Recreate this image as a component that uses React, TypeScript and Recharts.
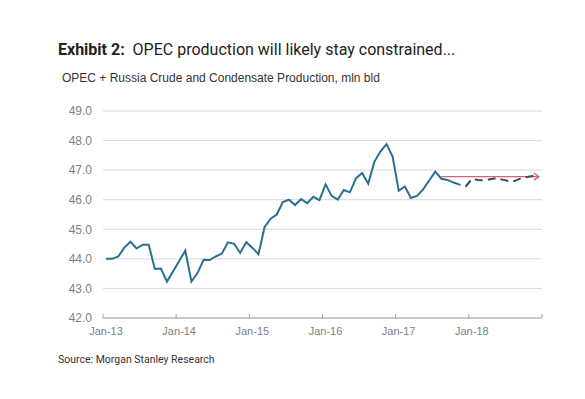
import React from 'react';
import { LineChart, Line, XAxis, YAxis, CartesianGrid } from 'recharts';

// Month index 0 = Jan-13 ... 71 = Dec-18
const yearTicks = [0, 12, 24, 36, 48, 60, 72];
const yearLabels = ['Jan-13', 'Jan-14', 'Jan-15', 'Jan-16', 'Jan-17', 'Jan-18', ''];
const yTicks = [42, 43, 44, 45, 46, 47, 48, 49];

// OPEC + Russia crude & condensate production, mln b/d (Jan-13 .. Nov-17)
const actual = [
  44.0, 44.0, 44.08, 44.38, 44.58, 44.35, 44.48, 44.48, 43.66, 43.67, 43.23, 43.58,
  43.93, 44.28, 43.23, 43.52, 43.97, 43.96, 44.08, 44.18, 44.56, 44.51, 44.2, 44.57,
  44.37, 44.16, 45.08, 45.36, 45.5, 45.92, 46.0, 45.82, 46.02, 45.88, 46.1, 45.99,
  46.52, 46.13, 46.0, 46.33, 46.25, 46.73, 46.9, 46.54, 47.28, 47.63, 47.88, 47.46,
  46.3, 46.45, 46.06, 46.13, 46.35, 46.65, 46.95, 46.71, 46.67, 46.58, 46.51,
];

// Forecast (Nov-17 .. Dec-18)
const forecastStart = 58;
const forecast = [
  46.51, 46.45, 46.7, 46.67, 46.65, 46.69, 46.73, 46.68, 46.63, 46.63, 46.72, 46.77, 46.8, 46.76,
];

// Red reference arrow
const targetStart = 55;
const targetLevel = 46.78;
const totalMonths = 72;

const data = Array.from({ length: totalMonths }, (_, i) => ({
  x: i + 0.5,
  actual: i < actual.length ? actual[i] : null,
  forecast:
    i >= forecastStart && i - forecastStart < forecast.length ? forecast[i - forecastStart] : null,
  target: i >= targetStart ? targetLevel : null,
}));

const XTick = (props: any) => {
  const { x, y, payload } = props;
  const idx = yearTicks.indexOf(payload.value);
  const label = idx >= 0 ? yearLabels[idx] : '';
  return (
    <g>
      <line x1={x} x2={x} y1={y - 4} y2={y} stroke="#a6a6a6" strokeWidth={1} />
      <text
        x={x + 3}
        y={y + 17}
        textAnchor="middle"
        fontSize={11}
        fill="#7f7f7f"
        fontFamily="'Liberation Sans', Arial, sans-serif"
      >
        {label}
      </text>
    </g>
  );
};

const ArrowDot = (props: any) => {
  const { cx, cy, index } = props;
  if (index !== totalMonths - 1 || cx == null || cy == null) return <g key={`d${index}`} />;
  return (
    <path
      key={`d${index}`}
      d={`M${cx - 5},${cy - 3.5} L${cx},${cy} L${cx - 5},${cy + 3.5}`}
      stroke="#e0606a"
      strokeWidth={1.3}
      fill="none"
    />
  );
};

export default function App() {
  return (
    <div
      style={{
        position: 'absolute',
        left: 0,
        top: 0,
        width: 585,
        height: 399,
        background: '#fff',
        overflow: 'hidden',
      }}
    >
      <LineChart
        width={585}
        height={399}
        data={data}
        margin={{ top: 111, right: 43, bottom: 61, left: 63 }}
      >
        <CartesianGrid vertical={false} stroke="#d9d9d9" strokeWidth={1} />
        <XAxis
          dataKey="x"
          type="number"
          domain={[0, totalMonths]}
          ticks={yearTicks}
          interval={0}
          height={20}
          tickSize={0}
          tickMargin={0}
          tickLine={false}
          axisLine={{ stroke: '#a6a6a6', strokeWidth: 1 }}
          tick={<XTick />}
        />
        <YAxis
          type="number"
          domain={[42, 49]}
          ticks={yTicks}
          interval={0}
          width={40}
          axisLine={false}
          tickLine={false}
          tickSize={0}
          tickMargin={11}
          tickFormatter={(v: number) => v.toFixed(1)}
          tick={{ fontSize: 12, fill: '#7f7f7f', fontFamily: "'Liberation Sans', Arial, sans-serif" }}
        />
        <Line
          dataKey="target"
          stroke="#e0606a"
          strokeWidth={1.2}
          dot={ArrowDot}
          activeDot={false}
          isAnimationActive={false}
        />
        <Line
          dataKey="actual"
          stroke="#2a6f8e"
          strokeWidth={2}
          dot={false}
          activeDot={false}
          isAnimationActive={false}
        />
        <Line
          dataKey="forecast"
          stroke="#2e4d6d"
          strokeWidth={2}
          strokeDasharray="8 5"
          strokeDashoffset={7}
          dot={false}
          activeDot={false}
          isAnimationActive={false}
        />
      </LineChart>
      <svg
        width={585}
        height={399}
        style={{ position: 'absolute', left: 0, top: 0, pointerEvents: 'none' }}
      >
        <text x={58} y={55} fontSize={16} fill="#222" fontFamily="Roboto, 'Liberation Sans', sans-serif">
          <tspan fontWeight="bold">Exhibit 2:</tspan>
          <tspan xmlSpace="preserve">{'  OPEC production will likely stay constrained...'}</tspan>
        </text>
        <text x={62} y={82} fontSize={12} fill="#333" fontFamily="'Liberation Sans', Arial, sans-serif">
          OPEC + Russia Crude and Condensate Production, mln bld
        </text>
        <text x={58} y={363} fontSize={10.5} fill="#333" fontFamily="Roboto, 'Liberation Sans', sans-serif">
          Source: Morgan Stanley Research
        </text>
      </svg>
    </div>
  );
}
